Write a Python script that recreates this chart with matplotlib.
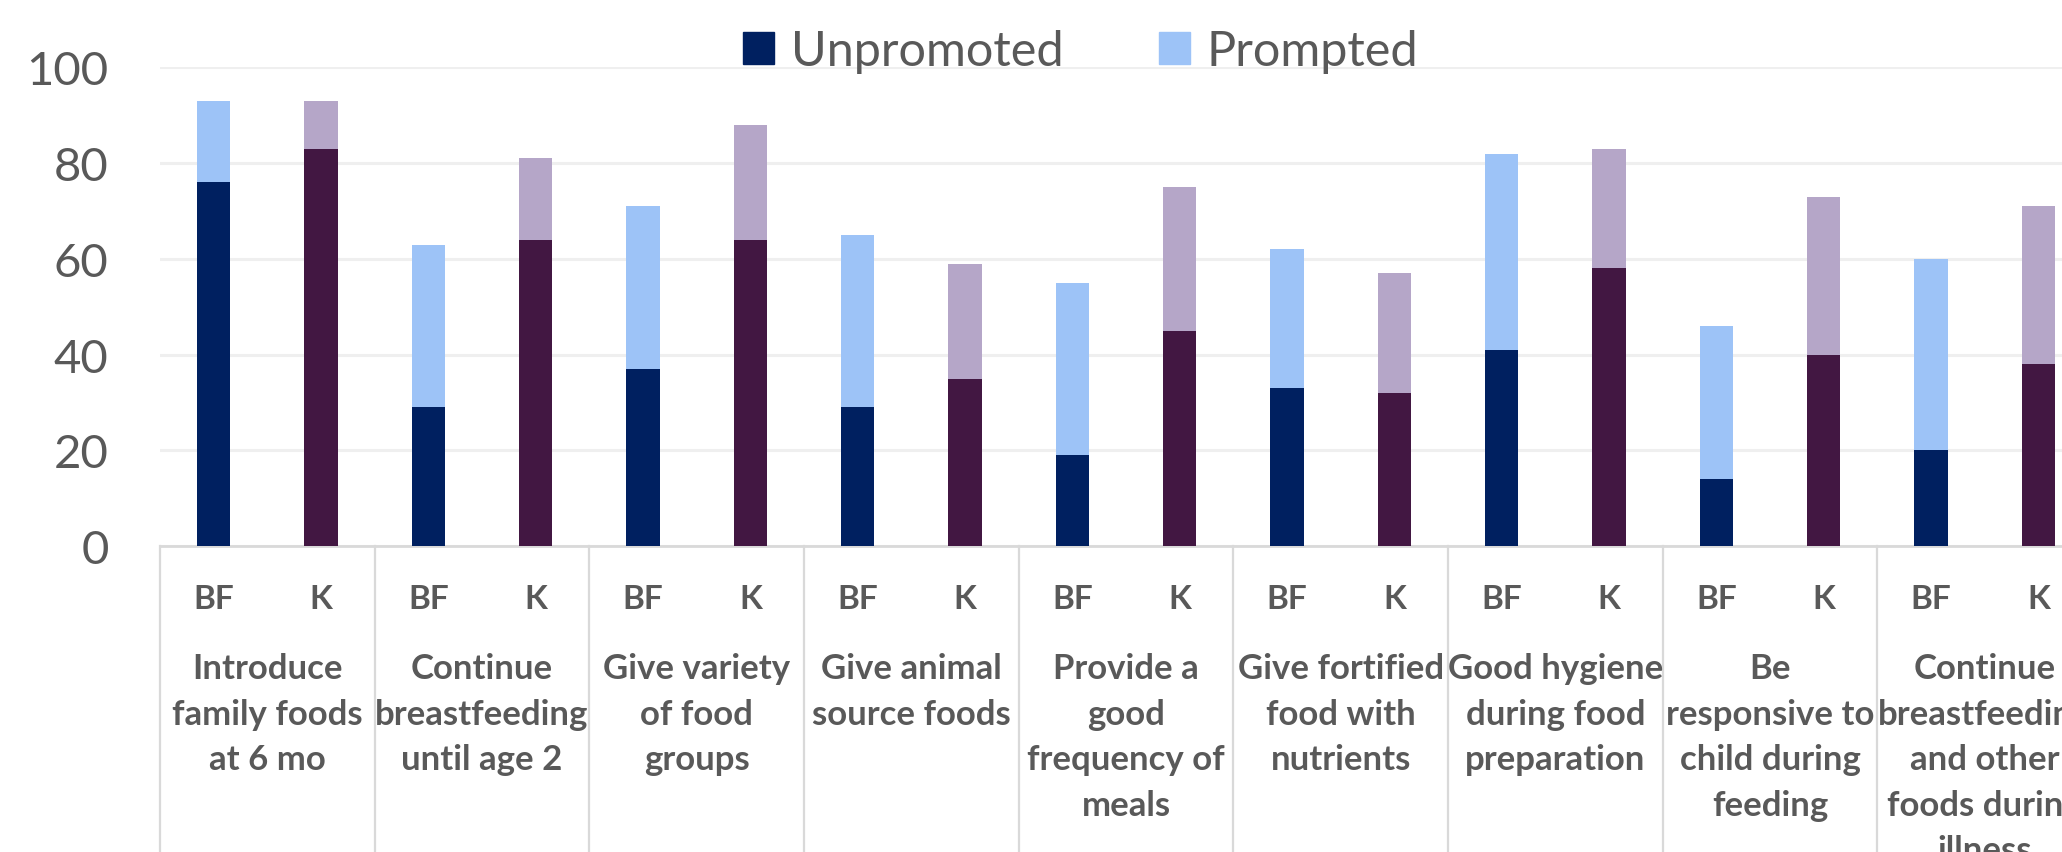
import matplotlib
matplotlib.use("Agg")
import matplotlib.pyplot as plt
import matplotlib.transforms as mtransforms
from matplotlib.patches import Patch
import numpy as np

plt.rcParams['font.family'] = ['Lato', 'DejaVu Sans']

behaviours = [
    "Introduce\nfamily foods\nat 6 mo",
    "Continue\nbreastfeeding\nuntil age 2",
    "Give variety\nof food\ngroups",
    "Give animal\nsource foods",
    "Provide a\ngood\nfrequency of\nmeals",
    "Give fortified\nfood with\nnutrients",
    "Good hygiene\nduring food\npreparation",
    "Be\nresponsive to\nchild during\nfeeding",
    "Continue\nbreastfeeding\nand other\nfoods during\nillness",
]
countries = ["BF", "K"]

# % recalling each message; prompted includes the unpromoted share
bf_unpromoted = [76, 29, 37, 29, 19, 33, 41, 14, 20]
bf_prompted = [93, 63, 71, 65, 55, 62, 82, 46, 60]
k_unpromoted = [83, 64, 64, 35, 45, 32, 58, 40, 38]
k_prompted = [93, 81, 88, 59, 75, 57, 83, 73, 71]

BF_DARK = '#002060'
BF_LIGHT = '#9DC3F7'
K_DARK = '#421742'
K_LIGHT = '#B5A6C8'
TEXT = '#595959'
LINE = '#D9D9D9'

fig = plt.figure(figsize=(20.62, 8.53), dpi=100)
ax = fig.add_axes([0.0776, 0.3587, 0.937, 0.561])

n = len(behaviours)
x_bf = np.arange(n) * 2
x_k = x_bf + 1
w = 0.31

ax.bar(x_bf, bf_prompted, w, color=BF_LIGHT, zorder=2)
ax.bar(x_bf, bf_unpromoted, w, color=BF_DARK, zorder=3)
ax.bar(x_k, k_prompted, w, color=K_LIGHT, zorder=2)
ax.bar(x_k, k_unpromoted, w, color=K_DARK, zorder=3)

ax.set_xlim(-0.5, 2 * n - 0.5)
ax.set_ylim(0, 100)
ax.set_yticks(range(0, 101, 20))
ax.set_xticks([])
ax.tick_params(axis='y', length=0, pad=37, labelsize=34, labelcolor=TEXT)
ax.yaxis.grid(True, color='#EFEFEF', lw=2.2, zorder=0)
ax.set_axisbelow(True)
for side in ['top', 'right', 'left']:
    ax.spines[side].set_visible(False)
ax.spines['bottom'].set_color(LINE)
ax.spines['bottom'].set_linewidth(2)

# two-level category axis: country row, then behaviour row
trans = mtransforms.blended_transform_factory(ax.transData, ax.transAxes)
for i in range(n):
    for xpos, c in zip((x_bf[i], x_k[i]), countries):
        ax.text(xpos, -0.11, c, transform=trans, ha='center', va='center',
                fontsize=24, fontweight='bold', color=TEXT)
    ax.text(x_bf[i] + 0.5, -0.222, behaviours[i], transform=trans,
            ha='center', va='top', multialignment='center', linespacing=1.52,
            fontsize=25, fontweight='bold', color=TEXT)

for b in np.arange(n + 1) * 2 - 0.5:
    ax.plot([b, b], [0, -0.8], transform=trans, color=LINE, lw=1.6,
            clip_on=False)

handles = [Patch(color=BF_DARK, label='Unpromoted'),
           Patch(color=BF_LIGHT, label='Prompted')]
fig.legend(handles=handles, loc='center', bbox_to_anchor=(0.524, 0.939),
           ncol=2, frameon=False, fontsize=35, handlelength=0.64,
           handleheight=0.64, handletextpad=0.34, columnspacing=1.96,
           labelcolor=TEXT, borderpad=0)

fig.savefig('out.png', dpi=100)
